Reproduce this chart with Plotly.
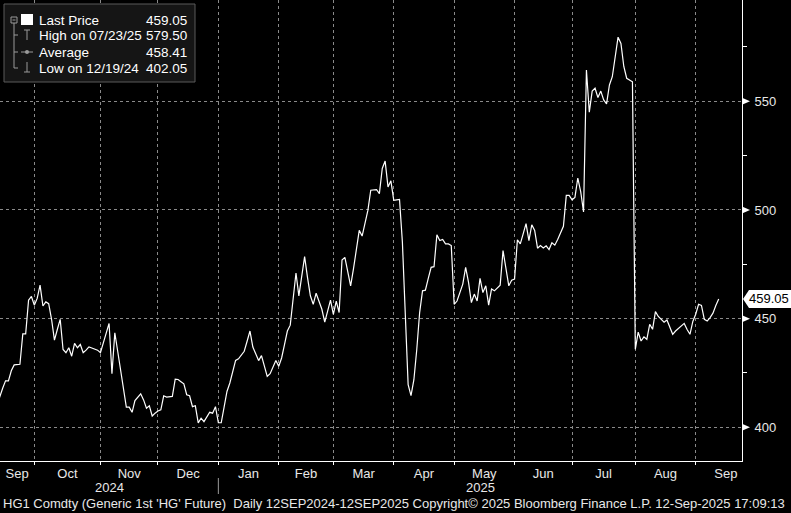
import pandas as pd
import plotly.graph_objects as go

# ---------------- data ----------------
start_date = "2024-09-12"
end_date = "2025-09-12"
exchange_holidays = ["2024-11-28", "2024-12-25", "2025-01-01", "2025-01-20", "2025-02-17",
                     "2025-04-18", "2025-05-26", "2025-06-19", "2025-07-04", "2025-09-01"]

prices_sep24 = [411, 414, 418, 421.4, 421.4, 426, 428.7, 428.7, 429, 443, 443, 458.5, 460.2]
prices_oct24 = [456.2, 459.3, 465.4, 455.8, 457.7, 456.9, 449.7, 440.1, 445, 449.7, 435.8, 434.3,
                436.6, 432.7, 438.6, 436.6, 438.1, 434.3, 435.5, 437, 436.5, 436, 435.5]
prices_nov24 = [434.3, 438.8, 443.3, 447.8, 424.7, 443.5, 435, 426.5, 418, 409.3, 409.3, 406.9,
                412.3, 413.8, 415.4, 412.6, 408.8, 409.9, 405.2, 406.5]
prices_dec24 = [407.5, 408, 414.5, 413.9, 414, 414.2, 422.2, 422, 421, 420, 415, 414.5, 409.5,
                409.9, 402.05, 404.2, 402.6, 404.7, 406.9, 406.5, 409.5]
prices_jan25 = [402.1, 402.1, 409.3, 416.5, 420.4, 425.6, 430.8, 431.5, 433.2, 435, 439.6, 444.3,
                436.9, 433.8, 430.7, 433, 428, 423.4, 424.7, 427.7, 430.7]
prices_feb25 = [428.1, 431.9, 438, 444.3, 447, 459, 471, 460.5, 470, 478.5, 469, 460.5, 456.6,
                461.7, 458, 454.3, 448.4, 453.5, 458.5]
prices_mar25 = [452, 458.1, 452.8, 477, 478.2, 471.5, 465.1, 473, 482, 490.6, 488, 494, 499.8,
                509.1, 509.3, 509.4, 507.5, 519.1, 522.5, 510.6, 513.4]
prices_apr25 = [504.4, 504.6, 504.8, 485.2, 448.1, 419.6, 414.6, 421.9, 435.8, 452.8, 462.8, 463.1,
                468.5, 473.6, 473.9, 488.6, 485.9, 486.4, 484.4, 484.4, 483.6]
prices_may25 = [456.6, 458.1, 462, 465.9, 473.6, 466.7, 457.4, 461.3, 458.1, 468.5, 462, 465.1,
                456.2, 463.6, 462.8, 464, 465.4, 481.3, 473, 465.1, 467.7]
prices_jun25 = [468.2, 486.3, 484.4, 489, 493.7, 485.9, 493.2, 490.6, 482.4, 483.6, 482.5, 483.5,
                481.8, 484.9, 483.8, 486.4, 489.5, 492.5, 506.7, 506.7]
prices_jul25 = [504.7, 505.8, 514.7, 508.5, 499.1, 564.4, 545, 554.7, 556, 551.7, 554.7, 550.6,
                548.8, 557.5, 561.3, 570.5, 579.5, 576.6, 566, 560.6, 559.8, 559]
prices_aug25 = [435.9, 443.8, 439.7, 441.6, 440.5, 447.4, 445.1, 453.2, 451, 449.7, 448.4, 449.4,
                446, 442.8, 444.3, 445.6, 446.7, 447.8, 445, 442.8, 448.7]
prices_sep25 = [452, 456.6, 456.1, 449.7, 448.9, 450.5, 452.5, 456, 459.05]

legend_labels = ["Last Price", "High on 07/23/25", "Average", "Low on 12/19/24"]
legend_values = ["459.05", "579.50", "458.41", "402.05"]
last_price = 459.05
y_major_ticks = [400, 450, 500, 550]
y_minor_ticks = [425, 475, 525, 575]
year_labels = ["2024", "2025"]
footer_text = ("HG1 Comdty (Generic 1st 'HG' Future)\u00a0 Daily 12SEP2024-12SEP2025 "
               "Copyright\u00a9 2025 Bloomberg Finance L.P. 12-Sep-2025 17:09:13")

# ---------------- build ----------------
prices = (prices_sep24 + prices_oct24 + prices_nov24 + prices_dec24 + prices_jan25 + prices_feb25 +
          prices_mar25 + prices_apr25 + prices_may25 + prices_jun25 + prices_jul25 + prices_aug25 +
          prices_sep25)
dates = [d for d in pd.bdate_range(start_date, end_date)
         if d.strftime("%Y-%m-%d") not in exchange_holidays]
n = min(len(dates), len(prices))
dates = dates[:n]
prices = prices[:n]
xi = list(range(n))

# view window (trading-day index units)
X_LO, X_HI = 1.07, 259.1
Y_LO, Y_HI = 384.5, 596.6
PLOT_W, PLOT_H = 742, 461
HALF_MONTH = 10.5

boundaries = [i for i in range(1, n) if dates[i].month != dates[i - 1].month]
seg_starts = [X_LO] + boundaries
seg_ends = boundaries + [boundaries[-1] + 2 * HALF_MONTH]
label_pos = [(a + b) / 2 for a, b in zip(seg_starts, seg_ends)]
label_txt = [dates[0].strftime("%b")] + [dates[i].strftime("%b") for i in boundaries]
year_b = [i for i in boundaries if dates[i].year != dates[i - 1].year][0]
year_pos = [(X_LO + year_b) / 2, (year_b + X_HI) / 2]


def px_x(p):
    return p / PLOT_W


def px_y(p):
    return 1 - p / PLOT_H


unit = (Y_HI - Y_LO) / PLOT_H  # value per pixel

fig = go.Figure(go.Scatter(x=xi, y=prices, mode="lines",
                           line=dict(color="#ffffff", width=1.2), hoverinfo="skip"))

GRID = "#8a8a8a"
TXT = "#e8e8e8"
FONT = "Liberation Sans"

shapes = []
annotations = []

# y-axis tick triangles
for v in y_major_ticks:
    shapes.append(dict(type="path", xref="paper", yref="y",
                       path=f"M {px_x(PLOT_W)},{v - 3.5 * unit} L {px_x(PLOT_W + 8)},{v} "
                            f"L {px_x(PLOT_W)},{v + 3.5 * unit} Z",
                       fillcolor="#ffffff", line=dict(width=0)))

# last price tag
h = 9 * unit
shapes.append(dict(type="path", xref="paper", yref="y",
                   path=f"M {px_x(PLOT_W + 1)},{last_price} L {px_x(PLOT_W + 7)},{last_price + h} "
                        f"L {px_x(791)},{last_price + h} L {px_x(791)},{last_price - h} "
                        f"L {px_x(PLOT_W + 7)},{last_price - h} Z",
                   fillcolor="#ffffff", line=dict(width=0)))
annotations.append(dict(xref="paper", yref="y", x=px_x(769), y=last_price, text=f"{last_price:.2f}",
                        showarrow=False, xanchor="center", yanchor="middle",
                        font=dict(family=FONT, size=13, color="#000000")))

# year separator + labels
shapes.append(dict(type="line", xref="x", yref="paper", x0=year_b, x1=year_b,
                   y0=-17 / PLOT_H, y1=-33 / PLOT_H, line=dict(color="#9a9a9a", width=1)))
for pos, txt in zip(year_pos, year_labels):
    annotations.append(dict(xref="x", yref="paper", x=pos, y=0, yshift=-26, text=txt,
                            showarrow=False, xanchor="center", yanchor="middle",
                            font=dict(family=FONT, size=13, color=TXT)))

# footer
annotations.append(dict(xref="paper", yref="paper", x=0, xshift=1, y=0, yshift=-42,
                        text=footer_text, showarrow=False, xanchor="left", yanchor="middle",
                        font=dict(family=FONT, size=13, color=TXT)))

# legend box
shapes.append(dict(type="rect", xref="paper", yref="paper", x0=px_x(4), x1=px_x(195),
                   y0=px_y(82), y1=px_y(4), fillcolor="#151515",
                   line=dict(color="#5a5a5a", width=1)))
ICON = "#9a9a9a"
# tree
shapes.append(dict(type="rect", xref="paper", yref="paper", x0=px_x(11), x1=px_x(17),
                   y0=px_y(23), y1=px_y(17), line=dict(color=ICON, width=1)))
shapes.append(dict(type="line", xref="paper", yref="paper", x0=px_x(12.5), x1=px_x(15.5),
                   y0=px_y(20), y1=px_y(20), line=dict(color=ICON, width=1)))
shapes.append(dict(type="line", xref="paper", yref="paper", x0=px_x(14), x1=px_x(14),
                   y0=px_y(23), y1=px_y(68), line=dict(color=ICON, width=1)))
for ry in [35, 52, 68]:
    shapes.append(dict(type="line", xref="paper", yref="paper", x0=px_x(14), x1=px_x(18),
                       y0=px_y(ry), y1=px_y(ry), line=dict(color=ICON, width=1)))
# last price swatch
shapes.append(dict(type="rect", xref="paper", yref="paper", x0=px_x(21), x1=px_x(33),
                   y0=px_y(25), y1=px_y(14), fillcolor="#ffffff", line=dict(width=0)))
# high icon (T)
shapes.append(dict(type="line", xref="paper", yref="paper", x0=px_x(24), x1=px_x(30),
                   y0=px_y(30), y1=px_y(30), line=dict(color=ICON, width=1)))
shapes.append(dict(type="line", xref="paper", yref="paper", x0=px_x(27), x1=px_x(27),
                   y0=px_y(30), y1=px_y(40), line=dict(color=ICON, width=1)))
# average icon
shapes.append(dict(type="line", xref="paper", yref="paper", x0=px_x(21), x1=px_x(33),
                   y0=px_y(52), y1=px_y(52), line=dict(color=ICON, width=1)))
shapes.append(dict(type="circle", xref="paper", yref="paper", x0=px_x(25), x1=px_x(29),
                   y0=px_y(54), y1=px_y(50), fillcolor=ICON, line=dict(width=0)))
# low icon (inverted T)
shapes.append(dict(type="line", xref="paper", yref="paper", x0=px_x(27), x1=px_x(27),
                   y0=px_y(62), y1=px_y(72), line=dict(color=ICON, width=1)))
shapes.append(dict(type="line", xref="paper", yref="paper", x0=px_x(24), x1=px_x(30),
                   y0=px_y(72), y1=px_y(72), line=dict(color=ICON, width=1)))

row_y = [20, 36, 52, 68]
for lab, val, ry in zip(legend_labels, legend_values, row_y):
    annotations.append(dict(xref="paper", yref="paper", x=px_x(37), y=px_y(ry), text=lab,
                            showarrow=False, xanchor="left", yanchor="middle",
                            font=dict(family=FONT, size=13.5, color="#ffffff")))
    annotations.append(dict(xref="paper", yref="paper", x=px_x(189), y=px_y(ry), text=val,
                            showarrow=False, xanchor="right", yanchor="middle",
                            font=dict(family=FONT, size=13.5, color="#ffffff")))

fig.update_layout(
    width=791, height=513,
    margin=dict(l=0, r=791 - PLOT_W, t=0, b=513 - PLOT_H, pad=0),
    paper_bgcolor="#000000", plot_bgcolor="#000000",
    showlegend=False,
    font=dict(family=FONT, size=13, color=TXT),
    xaxis=dict(range=[X_LO, X_HI], tickmode="array", tickvals=label_pos, ticktext=label_txt,
               ticks="", showgrid=False, zeroline=False, showline=True, linecolor="#ffffff",
               linewidth=1, tickfont=dict(family=FONT, size=13, color=TXT),
               minor=dict(tickmode="array", tickvals=boundaries, ticks="outside", ticklen=3,
                          tickcolor="#ffffff", showgrid=True, gridcolor=GRID, griddash="dot",
                          gridwidth=1)),
    yaxis=dict(side="right", range=[Y_LO, Y_HI], tickmode="array", tickvals=y_major_ticks,
               ticktext=[str(v) for v in y_major_ticks], ticks="", showgrid=True,
               gridcolor=GRID, griddash="dot", gridwidth=1, zeroline=False, showline=True,
               linecolor="#ffffff", linewidth=1, ticklabelstandoff=9,
               tickfont=dict(family=FONT, size=13, color=TXT),
               minor=dict(tickmode="array", tickvals=y_minor_ticks, ticks="outside", ticklen=4,
                          tickcolor="#ffffff", showgrid=False)),
    shapes=shapes,
    annotations=annotations,
)

fig.write_html("out.html")
